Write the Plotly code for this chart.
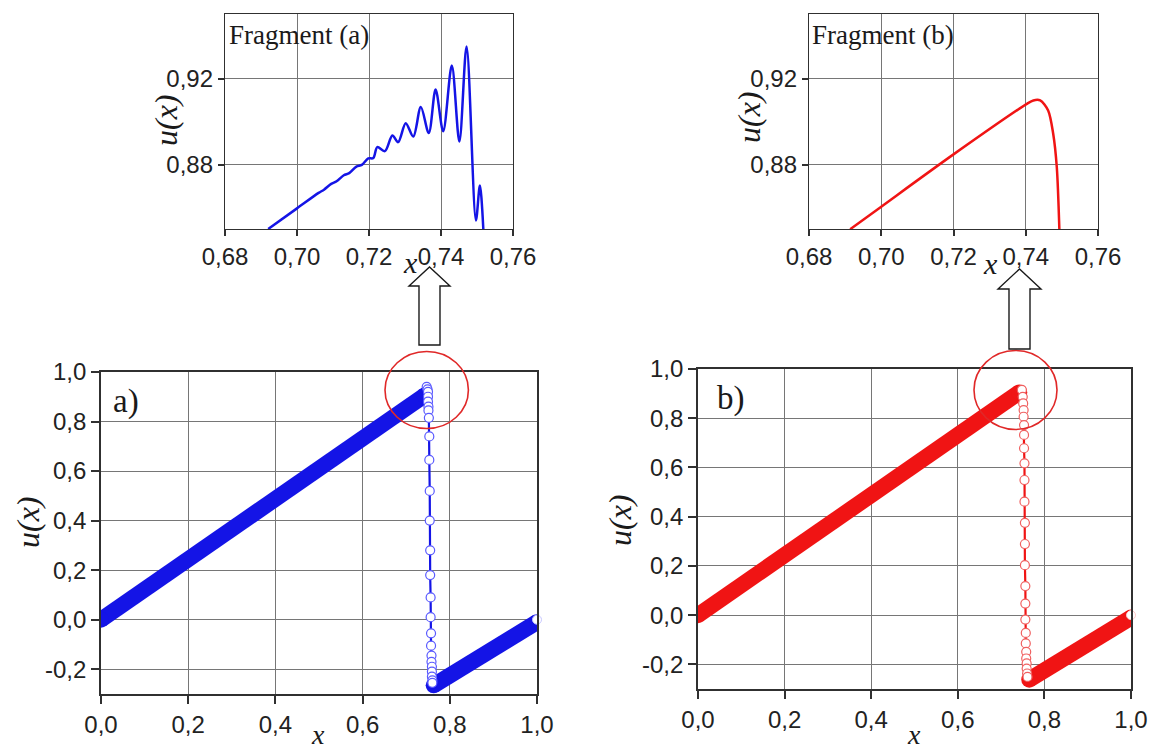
import plotly.graph_objects as go

# ---------------- data ----------------
# panel a) : thick rising branch, shock points, thick falling branch
rise_a_x = [0.0, 0.742]
rise_a_y = [0.0, 0.905]
shock_a_x = [0.747, 0.749, 0.750, 0.750, 0.750, 0.751, 0.751, 0.752, 0.753, 0.753,
             0.754, 0.754, 0.755, 0.755, 0.756, 0.756, 0.757, 0.757, 0.758, 0.758,
             0.759, 0.759, 0.759, 0.760, 0.760]
shock_a_y = [0.940, 0.930, 0.920, 0.900, 0.880, 0.860, 0.845, 0.815, 0.740, 0.645,
             0.520, 0.400, 0.280, 0.180, 0.090, 0.010, -0.055, -0.105, -0.145, -0.170,
             -0.190, -0.210, -0.230, -0.245, -0.255]
fall_a_x = [0.763, 1.0]
fall_a_y = [-0.265, -0.010]

# panel b)
rise_b_x = [0.0, 0.742]
rise_b_y = [0.0, 0.905]
shock_b_x = [0.748, 0.750, 0.751, 0.752, 0.752, 0.753, 0.753, 0.753, 0.754, 0.754,
             0.754, 0.755, 0.755, 0.755, 0.756, 0.756, 0.756, 0.757, 0.757, 0.758,
             0.758, 0.759, 0.759, 0.760, 0.761]
shock_b_y = [0.915, 0.887, 0.860, 0.833, 0.806, 0.772, 0.732, 0.678, 0.617, 0.549,
             0.461, 0.375, 0.289, 0.203, 0.118, 0.047, -0.018, -0.072, -0.115, -0.149,
             -0.176, -0.196, -0.217, -0.237, -0.251]
fall_b_x = [0.765, 1.0]
fall_b_y = [-0.262, -0.010]

end_x = [1.0]
end_y = [0.0]

# fragment (a): oscillating profile near the shock
frag_a_x = [0.6920, 0.7000, 0.7060, 0.7075, 0.7095, 0.7110, 0.7130, 0.7145, 0.7165,
            0.7180, 0.7198, 0.7212, 0.7223, 0.7244, 0.7265, 0.7281, 0.7302, 0.7323,
            0.7344, 0.7366, 0.7385, 0.7406, 0.7430, 0.7451, 0.7471, 0.7497, 0.7508,
            0.7518]
frag_a_y = [0.8500, 0.8596, 0.8668, 0.8683, 0.8710, 0.8722, 0.8750, 0.8760, 0.8790,
            0.8798, 0.8828, 0.8830, 0.8881, 0.8862, 0.8935, 0.8904, 0.8992, 0.8930,
            0.9067, 0.8946, 0.9149, 0.8955, 0.9260, 0.8907, 0.9349, 0.8540, 0.8702,
            0.8485]

# fragment (b): smooth profile near the shock
frag_b_x = [0.6914, 0.7000, 0.7200, 0.7403, 0.7421, 0.7440, 0.7462, 0.7476, 0.7486, 0.7493]
frag_b_y = [0.8499, 0.8604, 0.8847, 0.9082, 0.9098, 0.9098, 0.9051, 0.8943, 0.8786, 0.8500]

main_ticks = [0.0, 0.2, 0.4, 0.6, 0.8, 1.0]
main_ticktext = ["0,0", "0,2", "0,4", "0,6", "0,8", "1,0"]
main_yticks = [-0.2, 0.0, 0.2, 0.4, 0.6, 0.8, 1.0]
main_yticktext = ["-0,2", "0,0", "0,2", "0,4", "0,6", "0,8", "1,0"]
frag_xticks = [0.68, 0.70, 0.72, 0.74, 0.76]
frag_xticktext = ["0,68", "0,70", "0,72", "0,74", "0,76"]
frag_yticks = [0.88, 0.92]
frag_yticktext = ["0,88", "0,92"]

# ---------------- layout helpers ----------------
W, H = 1154, 753
BLUE = "#1414e6"
RED = "#f01414"
SANS = "Liberation Sans, Arial, sans-serif"
SERIF = "Liberation Serif, Times New Roman, serif"


def xdom(left, right):
    return [left / W, right / W]


def ydom(top, bottom):
    return [1 - bottom / H, 1 - top / H]


def px(x, y):
    return x / W, 1 - y / H


fig = go.Figure()


def band(x, y, color, xa, ya):
    fig.add_trace(go.Scatter(
        x=x, y=y, mode="lines+markers", xaxis=xa, yaxis=ya,
        line=dict(color=color, width=16),
        marker=dict(color=color, size=16, line=dict(width=0)),
        showlegend=False, hoverinfo="skip"))


def shock(x, y, color, edge, xa, ya):
    fig.add_trace(go.Scatter(
        x=x, y=y, mode="lines+markers", xaxis=xa, yaxis=ya,
        line=dict(color=color, width=2.2),
        marker=dict(symbol="circle", size=9, color="white",
                    line=dict(color=edge, width=1.2)),
        showlegend=False, hoverinfo="skip"))


def end_point(edge, xa, ya):
    fig.add_trace(go.Scatter(
        x=end_x, y=end_y, mode="markers", xaxis=xa, yaxis=ya, cliponaxis=False,
        marker=dict(symbol="circle", size=9, color="white",
                    line=dict(color=edge, width=1)),
        showlegend=False, hoverinfo="skip"))


# panel a)
band(rise_a_x, rise_a_y, BLUE, "x", "y")
band(fall_a_x, fall_a_y, BLUE, "x", "y")
shock(shock_a_x, shock_a_y, BLUE, "#5a5aff", "x", "y")
end_point("#c8c8ff", "x", "y")

# panel b)
band(rise_b_x, rise_b_y, RED, "x2", "y2")
band(fall_b_x, fall_b_y, RED, "x2", "y2")
shock(shock_b_x, shock_b_y, RED, "#f06060", "x2", "y2")
end_point("#ffc8c8", "x2", "y2")

# fragments
fig.add_trace(go.Scatter(x=frag_a_x, y=frag_a_y, mode="lines", xaxis="x3", yaxis="y3",
                         line=dict(color=BLUE, width=2.5, shape="spline", smoothing=0.9),
                         showlegend=False, hoverinfo="skip"))
fig.add_trace(go.Scatter(x=frag_b_x, y=frag_b_y, mode="lines", xaxis="x4", yaxis="y4",
                         line=dict(color=RED, width=2.5, shape="spline", smoothing=0.8),
                         showlegend=False, hoverinfo="skip"))

tickfont = dict(family=SANS, size=24, color="#222222")


def axis(domain, rng, tickvals, ticktext, anchor, line_w=1.6, ticklen=8):
    return dict(domain=domain, range=rng, anchor=anchor, tickvals=tickvals, ticktext=ticktext,
                showgrid=True, gridcolor="#767676", gridwidth=1, zeroline=False,
                showline=True, linecolor="#303030", linewidth=line_w, mirror=True,
                ticks="outside", ticklen=ticklen, tickwidth=1.5, tickcolor="#303030",
                tickfont=tickfont, automargin=False, fixedrange=True)


layout = dict(
    width=W, height=H, margin=dict(l=0, r=0, t=0, b=0),
    paper_bgcolor="white", plot_bgcolor="white", showlegend=False,
    xaxis=axis(xdom(101, 537), [0, 1], main_ticks, main_ticktext, "y"),
    yaxis=axis(ydom(372, 694), [-0.3, 1.0], main_yticks, main_yticktext, "x"),
    xaxis2=axis(xdom(698, 1131), [0, 1], main_ticks, main_ticktext, "y2"),
    yaxis2=axis(ydom(369, 689), [-0.3, 1.0], main_yticks, main_yticktext, "x2"),
    xaxis3=axis(xdom(225, 513), [0.68, 0.76], frag_xticks, frag_xticktext, "y3",
                line_w=1.3, ticklen=6),
    yaxis3=axis(ydom(14, 229), [0.85, 0.95], frag_yticks, frag_yticktext, "x3",
                line_w=1.3, ticklen=6),
    xaxis4=axis(xdom(809, 1098), [0.68, 0.76], frag_xticks, frag_xticktext, "y4",
                line_w=1.3, ticklen=6),
    yaxis4=axis(ydom(14, 229), [0.85, 0.95], frag_yticks, frag_yticktext, "x4",
                line_w=1.3, ticklen=6),
)
fig.update_layout(**layout)

# ---------------- text ----------------
annotations = []


def text(x, y, s, size, angle=0, xanchor="center", family=SERIF):
    ax, ay = px(x, y)
    annotations.append(dict(x=ax, y=ay, xref="paper", yref="paper", text=s, showarrow=False,
                            textangle=angle, xanchor=xanchor, yanchor="middle",
                            font=dict(family=family, size=size, color="#1a1a1a")))


# axis titles
text(318, 734, "<i>x</i>", 28)
text(914, 734, "<i>x</i>", 28)
text(28, 522, "<i>u(x)</i>", 32, angle=-90)
text(620, 520, "<i>u(x)</i>", 32, angle=-90)
text(410, 262, "<i>x</i>", 30)
text(990, 263, "<i>x</i>", 30)
text(166, 120, "<i>u(x)</i>", 32, angle=-90)
text(749, 117, "<i>u(x)</i>", 32, angle=-90)
# panel labels
text(111, 401, "a)", 33, xanchor="left")
text(715, 398, "b)", 33, xanchor="left")
text(227, 35, "Fragment (a)", 27, xanchor="left")
text(810, 35, "Fragment (b)", 27, xanchor="left")

fig.update_layout(annotations=annotations)

# ---------------- highlight circles and arrows ----------------
shapes = []


def ellipse(x0, y0, x1, y1):
    a0, b1 = px(x0, y0)
    a1, b0 = px(x1, y1)
    shapes.append(dict(type="circle", xref="paper", yref="paper", x0=a0, x1=a1, y0=b0, y1=b1,
                       line=dict(color="#e02828", width=1.6), fillcolor="rgba(0,0,0,0)"))


def up_arrow(cx, tip, head, bottom, head_half, shaft_half):
    pts = [(cx - shaft_half, bottom), (cx - shaft_half, head), (cx - head_half, head),
           (cx, tip), (cx + head_half, head), (cx + shaft_half, head),
           (cx + shaft_half, bottom)]
    path = ""
    for i, (a, b) in enumerate(pts):
        u, v = px(a, b)
        path += ("M" if i == 0 else "L") + f"{u:.5f},{v:.5f} "
    path += "Z"
    shapes.append(dict(type="path", xref="paper", yref="paper", path=path,
                       line=dict(color="#1a1a1a", width=1.4), fillcolor="white"))


ellipse(385, 351.5, 468.4, 428.5)
ellipse(974, 350.5, 1057, 429.5)
up_arrow(429.5, 267, 286, 345, 20.5, 10.5)
up_arrow(1019.5, 269, 289, 349, 21.5, 10.5)

fig.update_layout(shapes=shapes)

fig.write_html("out.html")
